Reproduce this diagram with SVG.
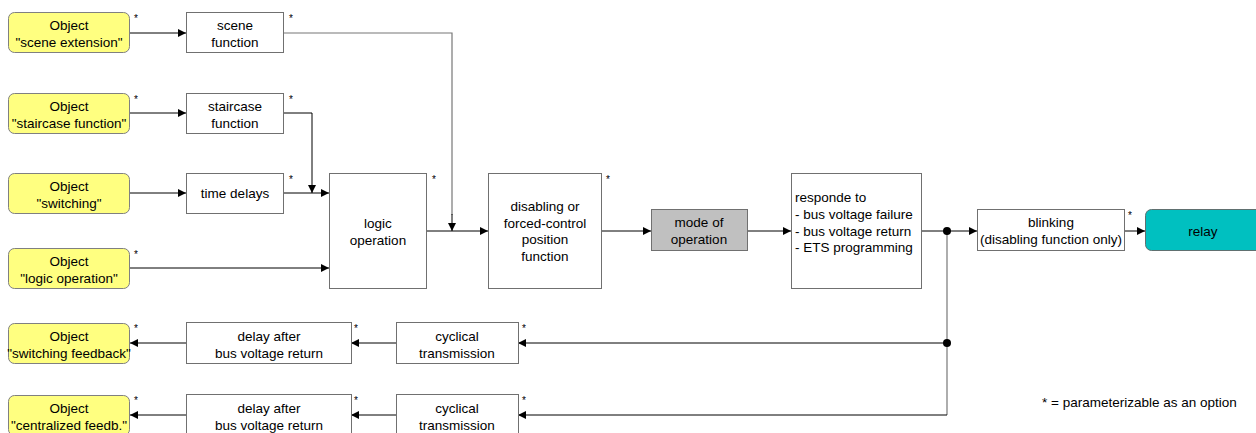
<svg xmlns="http://www.w3.org/2000/svg" width="1256" height="433" viewBox="0 0 1256 433">
<defs>
<style>
text{font-family:"Liberation Sans",Arial,sans-serif;font-size:13.5px;fill:#000}
.c{text-anchor:middle}
.s{font-size:10px}
.obj{fill:#ffff80;stroke:#808080;stroke-width:1}
.box{fill:#fff;stroke:#707070;stroke-width:1}
.gray{fill:#c0c0c0;stroke:#707070;stroke-width:1}
.relay{fill:#00c0c0;stroke:#607070;stroke-width:1}
.ln{fill:none;stroke:#000;stroke-width:1}
.lg{fill:none;stroke:#777;stroke-width:1.2}
</style>
<marker id="ar" viewBox="0 0 10 10" refX="10" refY="5" markerWidth="9" markerHeight="8" markerUnits="userSpaceOnUse" orient="auto">
<path d="M0,0 L10,5 L0,10 z" fill="#000"/>
</marker>
</defs>
<rect width="1256" height="433" fill="#fff"/>

<g id="connectors">
<path class="ln" d="M130,33 H186" marker-end="url(#ar)"/>
<path class="ln" d="M130,113 H186" marker-end="url(#ar)"/>
<path class="ln" d="M130,193 H186" marker-end="url(#ar)"/>
<path class="ln" d="M130,268 H329" marker-end="url(#ar)"/>
<path class="ln" d="M284,193 H329" marker-end="url(#ar)"/>
<path class="ln" d="M284,113 H312 V193" marker-end="url(#ar)"/>
<path class="lg" d="M284,33 H452 V215"/>
<path class="ln" d="M452,214 V231" marker-end="url(#ar)"/>
<path class="ln" d="M427,231 H488" marker-end="url(#ar)"/>
<path class="ln" d="M602,231 H651" marker-end="url(#ar)"/>
<path class="ln" d="M748,231 H791" marker-end="url(#ar)"/>
<path class="ln" d="M922,231 H977" marker-end="url(#ar)"/>
<path class="ln" d="M1125,231 H1145" marker-end="url(#ar)"/>
<path class="lg" d="M947,231 V415"/>
<path class="ln" d="M947,343 H518" marker-end="url(#ar)"/>
<path class="ln" d="M947,415 H518" marker-end="url(#ar)"/>
<path class="ln" d="M396,343 H351" marker-end="url(#ar)"/>
<path class="ln" d="M396,415 H351" marker-end="url(#ar)"/>
<path class="ln" d="M186,343 H130" marker-end="url(#ar)"/>
<path class="ln" d="M186,415 H130" marker-end="url(#ar)"/>
<circle cx="947" cy="231" r="4" fill="#000"/>
<circle cx="947" cy="343" r="4" fill="#000"/>
</g>

<g id="obj-scene">
<rect class="obj" x="8.5" y="12.5" width="121" height="40" rx="6"/>
<text class="c" x="69" y="29.5">Object</text>
<text class="c" x="69" y="46.5">"scene extension"</text>
<text class="s" x="134" y="22">*</text>
</g>
<g id="obj-staircase">
<rect class="obj" x="8.5" y="93.5" width="121" height="40" rx="6"/>
<text class="c" x="69" y="110.5">Object</text>
<text class="c" x="69" y="127.5">"staircase function"</text>
<text class="s" x="134" y="103">*</text>
</g>
<g id="obj-switching">
<rect class="obj" x="8.5" y="173.5" width="121" height="40" rx="6"/>
<text class="c" x="69" y="190.5">Object</text>
<text class="c" x="69" y="207.5">"switching"</text>
</g>
<g id="obj-logic">
<rect class="obj" x="8.5" y="248.5" width="121" height="40" rx="6"/>
<text class="c" x="69" y="265.5">Object</text>
<text class="c" x="69" y="282.5">"logic operation"</text>
<text class="s" x="134" y="258">*</text>
</g>
<g id="obj-switching-feedback">
<rect class="obj" x="8.5" y="323.5" width="121" height="40" rx="6"/>
<text class="c" x="69" y="340.5">Object</text>
<text class="c" x="69" y="357.5">"switching feedback"</text>
<text class="s" x="134" y="332">*</text>
</g>
<g id="obj-centralized-feedback">
<rect class="obj" x="8.5" y="395.5" width="121" height="40" rx="6"/>
<text class="c" x="69" y="412.5">Object</text>
<text class="c" x="69" y="429.5">"centralized feedb."</text>
<text class="s" x="134" y="404">*</text>
</g>

<g id="scene-function">
<rect class="box" x="186.5" y="12.5" width="97" height="40"/>
<text class="c" x="235" y="29.5">scene</text>
<text class="c" x="235" y="46.5">function</text>
<text class="s" x="289" y="22">*</text>
</g>
<g id="staircase-function">
<rect class="box" x="186.5" y="93.5" width="97" height="40"/>
<text class="c" x="235" y="110.5">staircase</text>
<text class="c" x="235" y="127.5">function</text>
<text class="s" x="289" y="103">*</text>
</g>
<g id="time-delays">
<rect class="box" x="186.5" y="173.5" width="97" height="40"/>
<text class="c" x="235" y="198">time delays</text>
<text class="s" x="289" y="183">*</text>
</g>
<g id="logic-operation">
<rect class="box" x="329.5" y="173.5" width="97" height="115"/>
<text class="c" x="378" y="228">logic</text>
<text class="c" x="378" y="245">operation</text>
<text class="s" x="432" y="183">*</text>
</g>
<g id="disabling">
<rect class="box" x="488.5" y="173.5" width="113" height="115"/>
<text class="c" x="545" y="211">disabling or</text>
<text class="c" x="545" y="227.5">forced-control</text>
<text class="c" x="545" y="244">position</text>
<text class="c" x="545" y="260.5">function</text>
<text class="s" x="606" y="183">*</text>
</g>
<g id="mode-of-operation">
<rect class="gray" x="651.5" y="209.5" width="96" height="41"/>
<text class="c" x="699" y="227">mode of</text>
<text class="c" x="699" y="244">operation</text>
</g>
<g id="responde">
<rect class="box" x="791.5" y="173.5" width="130" height="115"/>
<text x="795" y="202">responde to</text>
<text x="795" y="219">- bus voltage failure</text>
<text x="795" y="235.5">- bus voltage return</text>
<text x="795" y="252">- ETS programming</text>
</g>
<g id="blinking">
<rect class="box" x="977.5" y="209.5" width="147" height="41"/>
<text class="c" x="1051" y="227">blinking</text>
<text class="c" x="1051" y="244">(disabling function only)</text>
<text class="s" x="1128" y="219">*</text>
</g>
<g id="relay">
<rect class="relay" x="1145.5" y="209.5" width="118" height="41" rx="6"/>
<text class="c" x="1203" y="236">relay</text>
</g>
<g id="delay-1">
<rect class="box" x="186.5" y="322.5" width="165" height="41"/>
<text class="c" x="269" y="340.5">delay after</text>
<text class="c" x="269" y="357.5">bus voltage return</text>
<text class="s" x="354" y="332">*</text>
</g>
<g id="cyclical-1">
<rect class="box" x="396.5" y="322.5" width="122" height="41"/>
<text class="c" x="457" y="340.5">cyclical</text>
<text class="c" x="457" y="357.5">transmission</text>
<text class="s" x="522" y="332">*</text>
</g>
<g id="delay-2">
<rect class="box" x="186.5" y="394.5" width="165" height="41"/>
<text class="c" x="269" y="412.5">delay after</text>
<text class="c" x="269" y="429.5">bus voltage return</text>
<text class="s" x="354" y="404">*</text>
</g>
<g id="cyclical-2">
<rect class="box" x="396.5" y="394.5" width="122" height="41"/>
<text class="c" x="457" y="412.5">cyclical</text>
<text class="c" x="457" y="429.5">transmission</text>
<text class="s" x="522" y="404">*</text>
</g>
<text x="1042" y="407" style="font-size:13.5px">* = parameterizable as an option</text>
</svg>
